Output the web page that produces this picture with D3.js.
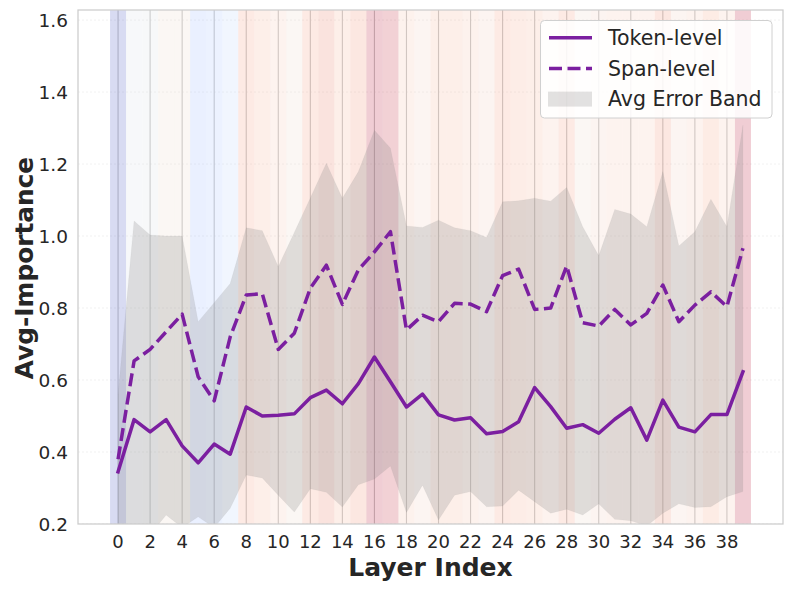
<!DOCTYPE html>
<html><head><meta charset="utf-8">
<script src="https://cdn.jsdelivr.net/npm/d3@7"></script>
<style>body{margin:0;background:#fff}svg{display:block}text{font-family:"DejaVu Sans",sans-serif}</style>
</head><body><svg id="c" width="793" height="591"></svg>
<script>
// ---------------- data ----------------
const layers = d3.range(0, 40);
const tokenLevel = [0.345,0.490,0.456,0.490,0.417,0.370,0.422,0.394,0.525,0.500,
                    0.502,0.506,0.551,0.572,0.534,0.590,0.664,0.595,0.525,0.561,
                    0.503,0.489,0.495,0.451,0.457,0.484,0.579,0.526,0.466,0.476,
                    0.452,0.491,0.523,0.433,0.544,0.469,0.456,0.504,0.504,0.623];
const spanLevel  = [0.380,0.653,0.685,0.734,0.783,0.609,0.542,0.720,0.836,0.840,
                    0.685,0.730,0.855,0.919,0.810,0.906,0.956,1.012,0.739,0.780,
                    0.762,0.813,0.811,0.790,0.890,0.908,0.796,0.800,0.917,0.759,
                    0.750,0.796,0.753,0.785,0.864,0.762,0.808,0.845,0.804,0.966];
const bandUpper  = [0.560,1.042,1.003,1.000,1.000,0.762,0.815,0.868,1.023,1.015,
                    0.915,1.010,1.106,1.202,1.105,1.179,1.294,1.244,1.028,1.024,
                    1.044,1.023,1.015,0.996,1.095,1.098,1.105,1.097,1.135,1.026,
                    0.945,1.074,1.061,1.026,1.179,0.972,1.012,1.102,1.026,1.308];
const bandLower  = [0.120,0.150,0.170,0.225,0.190,0.220,0.190,0.244,0.336,0.328,
                    0.280,0.233,0.298,0.288,0.247,0.309,0.325,0.361,0.232,0.308,
                    0.211,0.280,0.290,0.248,0.250,0.294,0.262,0.230,0.241,0.225,
                    0.256,0.213,0.209,0.195,0.230,0.256,0.246,0.248,0.276,0.290];
// per-layer heat (0 = cool/blue, 1 = warm/red) for background shading
const layerHeat  = [0.00,0.47,0.48,0.55,0.55,0.27,0.30,0.38,0.76,0.70,
                    0.62,0.55,0.76,0.84,0.70,0.80,1.00,0.98,0.64,0.58,
                    0.70,0.70,0.64,0.60,0.76,0.72,0.70,0.62,0.76,0.55,
                    0.60,0.62,0.62,0.62,0.80,0.58,0.62,0.74,0.62,1.00];
const xTicks = d3.range(0, 40, 2);
const yTicks = [0.2,0.4,0.6,0.8,1.0,1.2,1.4,1.6];
const seriesNames = ["Token-level","Span-level","Avg Error Band"];
const xLabel = "Layer Index", yLabel = "Avg-Importance";

// coolwarm colormap stops
const cwStops = [[59,76,192],[68,90,204],[77,104,215],[87,117,225],[98,130,234],[108,142,241],[119,154,247],[130,165,251],
 [141,176,254],[152,185,255],[163,194,255],[174,201,253],[184,208,249],[194,213,244],[204,217,238],[213,219,230],
 [221,221,221],[229,216,209],[236,211,197],[241,204,185],[245,196,173],[247,187,160],[247,177,148],[247,166,135],
 [244,154,123],[241,141,111],[236,127,99],[229,112,88],[222,96,77],[213,80,66],[203,62,56],[192,40,47],[180,4,38]];
const coolwarm = d3.scaleLinear()
  .domain(cwStops.map((d,i)=>i/(cwStops.length-1)))
  .range(cwStops.map(c=>d3.rgb(c[0],c[1],c[2]).toString()))
  .interpolate(d3.interpolateRgb);

// ---------------- layout ----------------
const L = 78, R = 783, T = 10, B = 524;
const x = d3.scaleLinear().domain([-2.5, 41.5]).range([L, R]);
const y = d3.scaleLinear().domain([0.2, 1.628]).range([B, T]);
const purple = "#7b1fa0", txt = "#262626";

const svg = d3.select("#c");
svg.append("defs").append("clipPath").attr("id","clip")
  .append("rect").attr("x",L).attr("y",T).attr("width",R-L).attr("height",B-T);

const plot = svg.append("g").attr("clip-path","url(#clip)");

// horizontal grid
plot.append("g").selectAll("line").data(yTicks).join("line")
  .attr("x1",L).attr("x2",R).attr("y1",d=>y(d)).attr("y2",d=>y(d))
  .attr("stroke","#eeeeee").attr("stroke-width",0.8).attr("stroke-dasharray","2,2");

// vertical grid
plot.append("g").selectAll("line").data(xTicks).join("line")
  .attr("x1",d=>x(d)).attr("x2",d=>x(d)).attr("y1",T).attr("y2",B)
  .attr("stroke","#c8c8c8").attr("stroke-width",1.1);

// layer background bands
plot.append("g").selectAll("rect").data(layers).join("rect")
  .attr("x",d=>x(d-0.5)).attr("width",d=>x(d+0.5)-x(d-0.5))
  .attr("y",T).attr("height",B-T)
  .attr("fill",d=>coolwarm(layerHeat[d])).attr("fill-opacity",0.2);

// error band
const area = d3.area().x(d=>x(d)).y0(d=>y(bandLower[d])).y1(d=>y(bandUpper[d]));
plot.append("path").datum(layers).attr("d",area)
  .attr("fill","#808080").attr("fill-opacity",0.23)
  .attr("stroke","#808080").attr("stroke-opacity",0.06).attr("stroke-width",1);

// lines
const line = arr => d3.line().x(d=>x(d)).y(d=>y(arr[d]));
plot.append("path").datum(layers).attr("d",line(spanLevel))
  .attr("fill","none").attr("stroke",purple).attr("stroke-width",3.5)
  .attr("stroke-dasharray","13,5.5").attr("stroke-linejoin","round");
plot.append("path").datum(layers).attr("d",line(tokenLevel))
  .attr("fill","none").attr("stroke",purple).attr("stroke-width",3.5)
  .attr("stroke-linejoin","round").attr("stroke-linecap","square");

// spines
svg.append("rect").attr("x",L).attr("y",T).attr("width",R-L).attr("height",B-T)
  .attr("fill","none").attr("stroke","#cccccc").attr("stroke-width",1.25);

// tick labels
svg.append("g").selectAll("text").data(xTicks).join("text")
  .attr("x",d=>x(d)).attr("y",548).attr("text-anchor","middle")
  .attr("font-size",18).attr("fill",txt).text(d=>d);
svg.append("g").selectAll("text").data(yTicks).join("text")
  .attr("x",68).attr("y",d=>y(d)).attr("dy","0.36em").attr("text-anchor","end")
  .attr("font-size",18.5).attr("fill",txt).text(d=>d.toFixed(1));

// axis labels
svg.append("text").attr("x",(L+R)/2).attr("y",576).attr("text-anchor","middle")
  .attr("font-size",25).attr("font-weight","bold").attr("fill",txt).text(xLabel);
svg.append("text").attr("transform",`translate(33,${(T+B)/2 + 1}) rotate(-90)`)
  .attr("text-anchor","middle").attr("font-size",24.8).attr("font-weight","bold")
  .attr("fill",txt).text(yLabel);

// legend
const lg = svg.append("g");
lg.append("rect").attr("x",540.5).attr("y",20.5).attr("width",231.5).attr("height",97.5)
  .attr("rx",4).attr("fill","#ffffff").attr("fill-opacity",0.85)
  .attr("stroke","#d0d0d0").attr("stroke-width",1);
const rowY = i => 37.7 + i*30.7;
lg.append("line").attr("x1",549).attr("x2",592).attr("y1",rowY(0)).attr("y2",rowY(0))
  .attr("stroke",purple).attr("stroke-width",3.5);
lg.append("line").attr("x1",549).attr("x2",592).attr("y1",rowY(1)).attr("y2",rowY(1))
  .attr("stroke",purple).attr("stroke-width",3.5).attr("stroke-dasharray","13,5.5");
lg.append("rect").attr("x",548).attr("y",rowY(2)-7.5).attr("width",44).attr("height",15)
  .attr("fill","#808080").attr("fill-opacity",0.23);
lg.selectAll("text.l").data(seriesNames).join("text").attr("class","l")
  .attr("x",608).attr("y",(d,i)=>rowY(i)).attr("dy","0.36em")
  .attr("font-size",20.5).attr("fill",txt).text(d=>d);
</script></body></html>
